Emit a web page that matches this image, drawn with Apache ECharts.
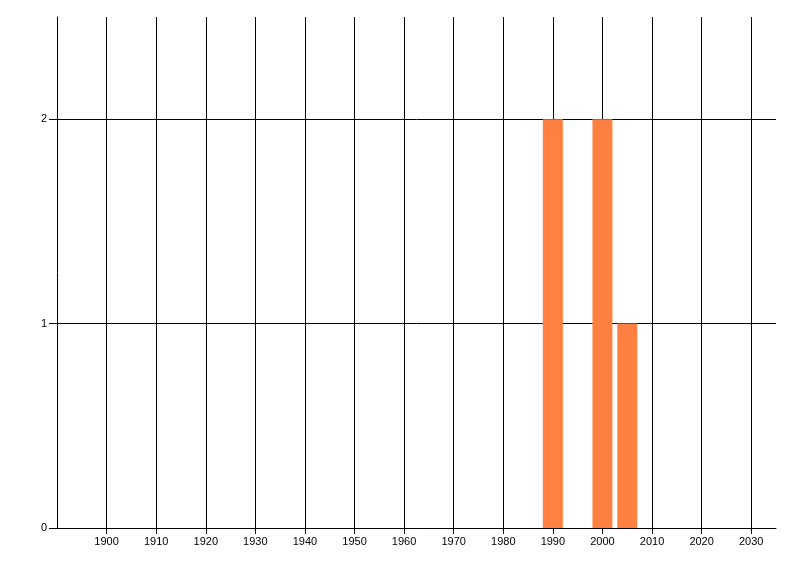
<!DOCTYPE html>
<html>
<head>
<meta charset="utf-8">
<script src="https://cdn.jsdelivr.net/npm/echarts@6/dist/echarts.min.js"></script>
<style>html,body{margin:0;padding:0;background:#fff;}#c{width:800px;height:576px;}</style>
</head>
<body>
<div id="c"></div>
<script>
const years = [1990, 2000, 2005];
const counts = [2, 2, 1];
const xTicks = [1900, 1910, 1920, 1930, 1940, 1950, 1960, 1970, 1980, 1990, 2000, 2010, 2020, 2030];
const yTicks = [0, 1, 2];

const chart = echarts.init(document.getElementById('c'));
chart.setOption({
  animation: false,
  grid: { left: 57, right: 24, top: 17, bottom: 48, containLabel: false },
  xAxis: {
    type: 'value', min: 1890, max: 2035, interval: 10,
    axisLine: { show: true, lineStyle: { color: '#000', width: 1 } },
    axisTick: { show: true, length: 6, customValues: xTicks, lineStyle: { color: '#000' } },
    axisLabel: { customValues: xTicks, formatter: v => String(v), color: '#000', fontFamily: 'Liberation Sans', fontSize: 11, margin: 8 },
    splitLine: { show: true, lineStyle: { color: '#000', width: 1 } }
  },
  yAxis: {
    type: 'value', min: 0, max: 2.5, interval: 1,
    axisLine: { show: true, lineStyle: { color: '#000', width: 1 } },
    axisTick: { show: true, length: 8, customValues: yTicks, lineStyle: { color: '#000' } },
    axisLabel: { customValues: yTicks, formatter: v => String(v), color: '#000', fontFamily: 'Liberation Sans', fontSize: 11, margin: 10 },
    splitLine: { show: true, lineStyle: { color: '#000', width: 1 } }
  },
  series: [{
    type: 'bar',
    data: years.map((y, i) => [y, counts[i]]),
    barWidth: 20,
    itemStyle: { color: '#FF8040' }
  }]
});
</script>
</body>
</html>
